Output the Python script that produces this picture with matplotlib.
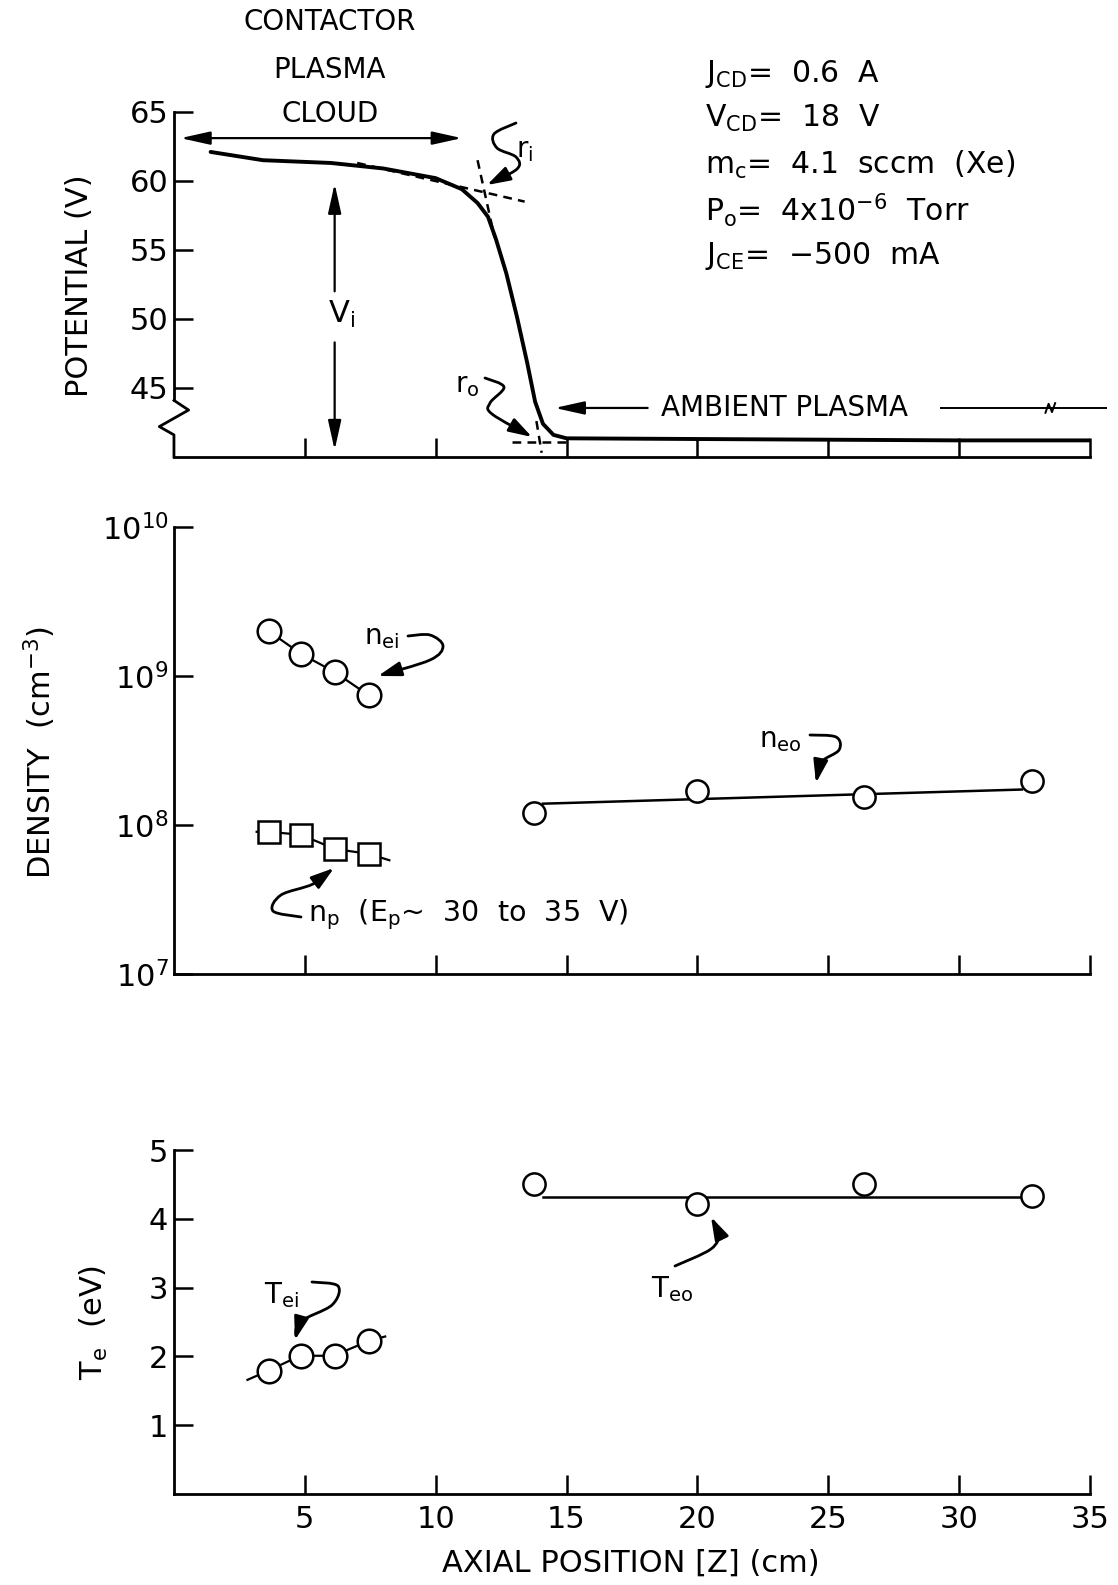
import numpy as np
import matplotlib
matplotlib.use("Agg")
import matplotlib.pyplot as plt
from matplotlib.patches import FancyArrowPatch
from matplotlib.path import Path
from matplotlib.ticker import NullLocator

plt.rcParams['font.family'] = ['DejaVu Sans']
plt.rcParams['mathtext.fontset'] = 'custom'
plt.rcParams['mathtext.rm'] = 'DejaVu Sans'
plt.rcParams['mathtext.it'] = 'DejaVu Sans'
plt.rcParams['mathtext.bf'] = 'DejaVu Sans:bold'

# potential profile along axis
z_pot = [1.4, 3.4, 6.0, 8.0, 10.0, 11.0, 11.6, 12.0, 12.3, 12.7, 13.1, 13.5, 13.8, 14.1, 14.5, 15.0, 20.0, 25.0, 30.0, 35.0]
v_pot = [62.1, 61.5, 61.3, 60.9, 60.2, 59.4, 58.4, 57.4, 55.8, 53.3, 50.2, 46.8, 44.0, 42.4, 41.6, 41.35, 41.3, 41.25, 41.2, 41.2]

# tangent construction lines (r_i and r_o)
tan_in_z, tan_in_v = [7.0, 13.4], [61.3, 58.5]
steep_in_z, steep_in_v = [11.6, 12.25], [61.5, 55.9]
tan_out_z, tan_out_v = [12.9, 15.0], [41.1, 41.1]
steep_out_z, steep_out_v = [13.85, 14.05], [42.6, 40.3]

# densities
z_in = [3.62, 4.85, 6.15, 7.45]
n_ei = [2.0e9, 1.41e9, 1.06e9, 7.4e8]
n_p = [9.0e7, 8.6e7, 6.9e7, 6.4e7]
z_out = [13.75, 20.0, 26.37, 32.8]
n_eo = [1.21e8, 1.68e8, 1.53e8, 1.96e8]
n_eo_fit_z, n_eo_fit = [14.1, 32.4], [1.39e8, 1.73e8]
n_p_line_z = [3.16, 3.62, 4.85, 6.15, 7.45, 8.23]
n_p_line = [9.0e7, 9.0e7, 8.6e7, 6.9e7, 6.4e7, 5.8e7]

# electron temperatures
t_ei = [1.79, 2.01, 2.01, 2.22]
t_ei_line_z = [2.81, 3.59, 4.82, 6.1, 7.41, 8.07]
t_ei_line = [1.66, 1.79, 2.01, 2.01, 2.22, 2.29]
t_eo = [4.51, 4.22, 4.51, 4.33]
t_eo_fit_z, t_eo_fit = [14.1, 32.5], [4.32, 4.32]

W, H = 1118, 1585
fig = plt.figure(figsize=(W / 100, H / 100), dpi=100)


def P(x, y):
    return (x / W, 1 - y / H)


def smooth_path(pts):
    pts = [np.array(P(*p)) for p in pts]
    n = len(pts)
    verts = [pts[0]]
    codes = [Path.MOVETO]
    for i in range(n - 1):
        p0 = pts[i - 1] if i > 0 else pts[i]
        p1, p2 = pts[i], pts[i + 1]
        p3 = pts[i + 2] if i + 2 < n else pts[i + 1]
        verts += [p1 + (p2 - p0) / 6, p2 - (p3 - p1) / 6, p2]
        codes += [Path.CURVE4] * 3
    return Path(verts, codes)


def squiggle(pts):
    arr = FancyArrowPatch(path=smooth_path(pts),
                          arrowstyle='-|>,head_length=0.7,head_width=0.22',
                          mutation_scale=20, lw=2.0, color='k',
                          transform=fig.transFigure)
    fig.add_artist(arr)


def style(ax, labels=False):
    for s in ['top', 'right']:
        ax.spines[s].set_visible(False)
    for s in ['left', 'bottom']:
        ax.spines[s].set_linewidth(2.0)
    ax.set_xlim(0, 35)
    ax.set_xticks([5, 10, 15, 20, 25, 30, 35])
    ax.tick_params(direction='in', length=14, width=1.8, labelsize=22, pad=8,
                   labelbottom=labels)
    ax.tick_params(axis='y', pad=4)


ax1 = fig.add_axes([0.1556, 0.7117, 0.8193, 0.2177])
ax2 = fig.add_axes([0.1556, 0.3855, 0.8193, 0.282])
ax3 = fig.add_axes([0.1556, 0.0574, 0.8193, 0.217])
for a in (ax1, ax2, ax3):
    a.patch.set_alpha(0)

# ---- potential ----
style(ax1)
ax1.set_ylim(40, 65)
ax1.set_yticks([45, 50, 55, 60, 65])
ax1.spines['left'].set_bounds(44.1, 65)
ax1.plot([0, 0.016, -0.016, 0, 0], [44.1, 43.4, 42.2, 41.6, 40],
         transform=ax1.get_yaxis_transform(), color='k', lw=2.0, clip_on=False)
ax1.plot(z_pot, v_pot, color='k', lw=2.8, solid_capstyle='round')
for zz, vv in [(tan_in_z, tan_in_v), (steep_in_z, steep_in_v),
               (tan_out_z, tan_out_v), (steep_out_z, steep_out_v)]:
    ax1.plot(zz, vv, color='k', lw=1.8, ls=(0, (3.5, 2.5)))

arrow_kw = dict(color='k', lw=1.6, mutation_scale=20, shrinkA=0, shrinkB=0)
ax1.annotate('', xy=(0.25, 63.1), xytext=(11.0, 63.1),
             arrowprops=dict(arrowstyle='<|-|>,head_length=0.9,head_width=0.2', **arrow_kw),
             annotation_clip=False)
ax1.annotate('', xy=(6.14, 59.8), xytext=(6.14, 52.0),
             arrowprops=dict(arrowstyle='-|>,head_length=0.9,head_width=0.2', **arrow_kw))
ax1.annotate('', xy=(6.14, 40.5), xytext=(6.14, 48.3),
             arrowprops=dict(arrowstyle='-|>,head_length=0.9,head_width=0.2', **arrow_kw))
ax1.text(6.4, 50.3, r'$\mathregular{V_i}$', fontsize=22, ha='center', va='center')
ax1.annotate('', xy=(14.55, 43.55), xytext=(18.1, 43.55),
             arrowprops=dict(arrowstyle='-|>,head_length=0.9,head_width=0.2', **arrow_kw))
ax1.text(18.6, 43.55, 'AMBIENT PLASMA', fontsize=20, ha='left', va='center')
ax1.plot([29.3, 35.6], [43.55, 43.55], color='k', lw=1.4, clip_on=False)
ax1.plot([33.3, 33.42, 33.55, 33.67], [43.2, 43.85, 43.25, 43.9], color='k', lw=1.4)

for txt, y in [('CONTACTOR', 22), ('PLASMA', 70), ('CLOUD', 114)]:
    fig.text(*P(330, y), txt, fontsize=20, ha='center', va='center')

params = [r'$\mathregular{J_{CD}}$=  0.6  A',
          r'$\mathregular{V_{CD}}$=  18  V',
          r'$\mathregular{m_c}$=  4.1  sccm  (Xe)',
          r'$\mathregular{P_o}$=  4x10$^{\mathregular{-6}}$  Torr',
          r'$\mathregular{J_{CE}}$=  $-$500  mA']
for txt, y in zip(params, [74, 118, 165, 210, 256]):
    fig.text(*P(705, y), txt, fontsize=21.5, ha='left', va='center')

fig.text(*P(525, 150), r'$\mathregular{r_i}$', fontsize=20, ha='center', va='center')
squiggle([(516, 123), (494, 134), (497, 148), (516, 157), (517, 169), (487, 185)])
fig.text(*P(467, 385), r'$\mathregular{r_o}$', fontsize=20, ha='center', va='center')
squiggle([(485, 378), (504, 387), (490, 403), (492, 414), (532, 437)])
fig.text(*P(79, 286), 'POTENTIAL (V)', fontsize=22, rotation=90, ha='center', va='center')

# ---- density ----
style(ax2)
ax2.set_yscale('log')
ax2.set_ylim(1e7, 1e10)
ax2.set_yticks([1e7, 1e8, 1e9, 1e10])
ax2.set_yticklabels([r'$\mathregular{10^{7}}$', r'$\mathregular{10^{8}}$',
                     r'$\mathregular{10^{9}}$', r'$\mathregular{10^{10}}$'])
ax2.yaxis.set_minor_locator(NullLocator())
ax2.plot(z_in, n_ei, color='k', lw=1.6, marker='o', ms=17, mfc='white', mec='k', mew=1.8)
ax2.plot(n_p_line_z, n_p_line, color='k', lw=1.6)
ax2.plot(z_in, n_p, ls='none', marker='s', ms=16, mfc='white', mec='k', mew=1.8)
ax2.plot(n_eo_fit_z, n_eo_fit, color='k', lw=1.8)
ax2.plot(z_out, n_eo, ls='none', marker='o', ms=16, mfc='white', mec='k', mew=1.8)

fig.text(*P(382, 637), r'$\mathregular{n_{ei}}$', fontsize=20, ha='center', va='center')
squiggle([(408, 636), (430, 635), (443, 646), (430, 660), (378, 676)])
fig.text(*P(780, 740), r'$\mathregular{n_{eo}}$', fontsize=20, ha='center', va='center')
squiggle([(810, 735), (836, 737), (839, 750), (820, 763), (816, 783)])
fig.text(*P(308, 915), r'$\mathregular{n_p}$  ($\mathregular{E_p}$~  30  to  35  V)',
         fontsize=20.5, ha='left', va='center')
squiggle([(301, 917), (273, 911), (281, 895), (313, 884), (334, 868)])
fig.text(*P(40, 753), r'DENSITY  (cm$^{\mathregular{-3}}$)', fontsize=22, rotation=90,
         ha='center', va='center')

# ---- temperature ----
style(ax3, labels=True)
ax3.set_ylim(0, 5)
ax3.set_yticks([1, 2, 3, 4, 5])
ax3.set_xticklabels(['5', '10', '15', '20', '25', '30', '35'])
ax3.plot(t_ei_line_z, t_ei_line, color='k', lw=1.6)
ax3.plot(z_in, t_ei, ls='none', marker='o', ms=17, mfc='white', mec='k', mew=1.8)
ax3.plot(t_eo_fit_z, t_eo_fit, color='k', lw=1.8)
ax3.plot(z_out, t_eo, ls='none', marker='o', ms=16, mfc='white', mec='k', mew=1.8)

fig.text(*P(281, 1295), r'$\mathregular{T_{ei}}$', fontsize=20, ha='center', va='center')
squiggle([(312, 1282), (338, 1286), (332, 1305), (300, 1322), (295, 1340)])
fig.text(*P(672, 1289), r'$\mathregular{T_{eo}}$', fontsize=20, ha='center', va='center')
squiggle([(675, 1266), (711, 1249), (719, 1233), (711, 1217)])
fig.text(*P(94, 1322), r'$\mathregular{T_e}$  (eV)', fontsize=22, rotation=90,
         ha='center', va='center')
fig.text(*P(631, 1563), 'AXIAL POSITION [Z] (cm)', fontsize=22, ha='center', va='center')

fig.savefig('out.png', dpi=100)
